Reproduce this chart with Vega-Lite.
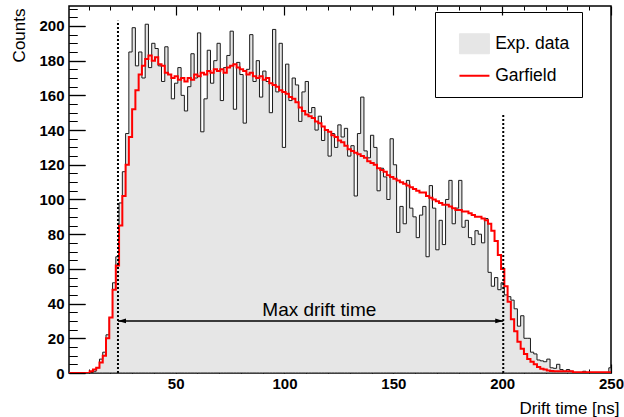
{
  "$schema": "https://vega.github.io/schema/vega-lite/v6.json",
  "autosize": "none",
  "width": 542,
  "height": 367,
  "padding": {"left": 69, "top": 6, "right": 13, "bottom": 44},
  "background": "white",
  "resolve": {"axis": {"x": "independent", "y": "independent"}},
  "config": {
    "view": {"stroke": "black", "strokeWidth": 1.5},
    "axis": {
      "grid": false,
      "zindex": 2,
      "domain": false,
      "ticks": true,
      "labelOverlap": false,
      "tickColor": "#000000",
      "tickOpacity": 1,
      "tickWidth": 1,
      "labelFont": "Liberation Sans",
      "labelFontWeight": "bold",
      "labelFontSize": 15,
      "labelColor": "black",
      "titleFont": "Liberation Sans",
      "titleFontWeight": "normal",
      "titleFontSize": 17,
      "titleColor": "black"
    },
    "legend": {
      "orient": "none",
      "legendX": 366,
      "legendY": 6,
      "padding": 12,
      "strokeColor": "black",
      "fillColor": "white",
      "labelFont": "Liberation Sans",
      "labelFontSize": 17.5,
      "labelColor": "black",
      "symbolOffset": 18.7,
      "labelOffset": 12,
      "rowPadding": 0,
      "symbolSize": 400
    }
  },
  "datasets": {
    "hist": [
      {"t":0,"e":0,"s":0},{"t":1.5,"e":0,"s":0},{"t":3,"e":0,"s":0},{"t":4.5,"e":0,"s":0},{"t":6,"e":0,"s":0},{"t":7.5,"e":0,"s":0},{"t":9,"e":0,"s":0},{"t":10.5,"e":0,"s":1},{"t":12,"e":1,"s":2},{"t":13.5,"e":3,"s":3},
      {"t":15,"e":8,"s":6},{"t":16.5,"e":12,"s":10},{"t":18,"e":22,"s":20},{"t":19.5,"e":32,"s":32},{"t":21,"e":52,"s":48},{"t":22.5,"e":67,"s":62},{"t":24,"e":98,"s":85},{"t":25.5,"e":116,"s":102},{"t":27,"e":138,"s":120},{"t":28.5,"e":185,"s":136},
      {"t":30,"e":199,"s":152},{"t":31.5,"e":177,"s":163},{"t":33,"e":185,"s":172},{"t":34.5,"e":170,"s":177},{"t":36,"e":201,"s":181},{"t":37.5,"e":176,"s":183},{"t":39,"e":190,"s":180},{"t":40.5,"e":187,"s":182},{"t":42,"e":177,"s":178},{"t":43.5,"e":168,"s":177},
      {"t":45,"e":188,"s":173},{"t":46.5,"e":172,"s":172},{"t":48,"e":158,"s":170},{"t":49.5,"e":167,"s":171},{"t":51,"e":176,"s":169},{"t":52.5,"e":160,"s":170},{"t":54,"e":151,"s":168},{"t":55.5,"e":165,"s":170},{"t":57,"e":184,"s":169},{"t":58.5,"e":170,"s":172},
      {"t":60,"e":196,"s":171},{"t":61.5,"e":139,"s":173},{"t":63,"e":158,"s":172},{"t":64.5,"e":186,"s":174},{"t":66,"e":167,"s":173},{"t":67.5,"e":180,"s":175},{"t":69,"e":190,"s":174},{"t":70.5,"e":157,"s":175},{"t":72,"e":176,"s":173},{"t":73.5,"e":183,"s":176},
      {"t":75,"e":197,"s":177},{"t":76.5,"e":152,"s":178},{"t":78,"e":179,"s":176},{"t":79.5,"e":172,"s":175},{"t":81,"e":144,"s":174},{"t":82.5,"e":175,"s":172},{"t":84,"e":195,"s":173},{"t":85.5,"e":168,"s":171},{"t":87,"e":180,"s":170},{"t":88.5,"e":159,"s":171},
      {"t":90,"e":174,"s":169},{"t":91.5,"e":168,"s":170},{"t":93,"e":150,"s":167},{"t":94.5,"e":198,"s":166},{"t":96,"e":162,"s":165},{"t":97.5,"e":190,"s":163},{"t":99,"e":130,"s":162},{"t":100.5,"e":178,"s":161},{"t":102,"e":157,"s":159},{"t":103.5,"e":170,"s":158},
      {"t":105,"e":166,"s":156},{"t":106.5,"e":145,"s":153},{"t":108,"e":162,"s":151},{"t":109.5,"e":168,"s":149},{"t":111,"e":150,"s":148},{"t":112.5,"e":153,"s":147},{"t":114,"e":140,"s":145},{"t":115.5,"e":148,"s":144},{"t":117,"e":134,"s":142},{"t":118.5,"e":140,"s":140},
      {"t":120,"e":125,"s":139},{"t":121.5,"e":138,"s":137},{"t":123,"e":130,"s":136},{"t":124.5,"e":143,"s":134},{"t":126,"e":136,"s":133},{"t":127.5,"e":141,"s":131},{"t":129,"e":125,"s":129},{"t":130.5,"e":131,"s":128},{"t":132,"e":102,"s":127},{"t":133.5,"e":138,"s":126},
      {"t":135,"e":159,"s":125},{"t":136.5,"e":128,"s":124},{"t":138,"e":124,"s":122},{"t":139.5,"e":137,"s":121},{"t":141,"e":130,"s":120},{"t":142.5,"e":105,"s":118},{"t":144,"e":118,"s":117},{"t":145.5,"e":113,"s":116},{"t":147,"e":100,"s":114},{"t":148.5,"e":135,"s":113},
      {"t":150,"e":120,"s":112},{"t":151.5,"e":81,"s":111},{"t":153,"e":96,"s":110},{"t":154.5,"e":86,"s":109},{"t":156,"e":111,"s":108},{"t":157.5,"e":95,"s":107},{"t":159,"e":90,"s":106},{"t":160.5,"e":78,"s":105},{"t":162,"e":91,"s":104},{"t":163.5,"e":96,"s":104},
      {"t":165,"e":67,"s":102},{"t":166.5,"e":108,"s":101},{"t":168,"e":95,"s":100},{"t":169.5,"e":71,"s":99},{"t":171,"e":88,"s":98},{"t":172.5,"e":74,"s":97},{"t":174,"e":100,"s":97},{"t":175.5,"e":111,"s":96},{"t":177,"e":86,"s":95},{"t":178.5,"e":95,"s":94},
      {"t":180,"e":111,"s":94},{"t":181.5,"e":84,"s":93},{"t":183,"e":88,"s":93},{"t":184.5,"e":78,"s":92},{"t":186,"e":74,"s":91},{"t":187.5,"e":82,"s":90},{"t":189,"e":80,"s":90},{"t":190.5,"e":75,"s":89},{"t":192,"e":89,"s":88},{"t":193.5,"e":58,"s":86},
      {"t":195,"e":50,"s":82},{"t":196.5,"e":55,"s":76},{"t":198,"e":48,"s":68},{"t":199.5,"e":52,"s":60},{"t":201,"e":45,"s":50},{"t":202.5,"e":44,"s":41},{"t":204,"e":42,"s":31},{"t":205.5,"e":37,"s":24},{"t":207,"e":27,"s":18},{"t":208.5,"e":33,"s":14},
      {"t":210,"e":20,"s":11},{"t":211.5,"e":20,"s":8},{"t":213,"e":12,"s":6.5},{"t":214.5,"e":11,"s":5},{"t":216,"e":7.5,"s":3.5},{"t":217.5,"e":7,"s":2.5},{"t":219,"e":6.5,"s":2},{"t":220.5,"e":8,"s":1.5},{"t":222,"e":3,"s":1.2},{"t":223.5,"e":2.7,"s":1},
      {"t":225,"e":5,"s":1},{"t":226.5,"e":2,"s":1},{"t":228,"e":1,"s":1},{"t":229.5,"e":2,"s":1},{"t":231,"e":1,"s":1},{"t":232.5,"e":0,"s":0.5},{"t":234,"e":0,"s":0.5},{"t":235.5,"e":0,"s":0.5},{"t":237,"e":1,"s":0.5},{"t":238.5,"e":0,"s":0.5},
      {"t":240,"e":0,"s":0.5},{"t":241.5,"e":0,"s":0.5},{"t":243,"e":0,"s":0.5},{"t":244.5,"e":0,"s":0.5},{"t":246,"e":0,"s":0.5},{"t":247.5,"e":0,"s":0.5},{"t":249,"e":3,"s":0.5},{"t":250,"e":3,"s":0.5}
    ]
  },
  "layer": [
    {
      "data": {"name": "hist"},
      "mark": {"type": "area", "interpolate": "step-after", "stroke": "#1a1a1a", "strokeWidth": 1, "clip": true, "opacity": 1},
      "encoding": {
        "x": {
          "field": "t", "type": "quantitative", "title": "Drift time [ns]",
          "scale": {"domain": [1, 250], "nice": false, "zero": false},
          "axis": {
            "orient": "bottom",
            "values": [50, 100, 150, 200, 250],
            "offset": -9,
            "ticks": true,
            "tickColor": "#000000",
            "tickOpacity": 1,
            "tickWidth": 1.2,
            "tickSize": 9,
            "labelPadding": 3,
            "labelFlush": false,
            "titleAnchor": "end",
            "titleAlign": "right",
            "titleBaseline": "alphabetic",
            "titleX": 550,
            "titleY": 49
          }
        },
        "y": {
          "field": "e", "type": "quantitative", "title": "Counts",
          "scale": {"domain": [0, 211.5], "nice": false},
          "axis": {
            "orient": "left",
            "values": [0, 20, 40, 60, 80, 100, 120, 140, 160, 180, 200],
            "offset": -16,
            "ticks": true,
            "tickColor": "#000000",
            "tickOpacity": 1,
            "tickWidth": 1.2,
            "tickSize": 16,
            "labelPadding": 5,
            "labelFlush": false,
            "titleAngle": 270,
            "titleAnchor": "end",
            "titleAlign": "right",
            "titleBaseline": "alphabetic",
            "titleX": -61,
            "titleY": 2
          }
        },
        "color": {
          "datum": "Exp. data", "type": "nominal",
          "scale": {"domain": ["Exp. data", "Garfield"], "range": ["#e6e6e6", "#ff0000"]},
          "legend": {
            "title": null,
            "encode": {
              "labels": {"update": {"dy": {"value": 11}}},
              "symbols": {
                "update": {
                  "shape": {"signal": "datum.value === 'Garfield' ? 'M-1.5,1.1L1.5,1.1' : 'M-1.5,0.1L1.5,0.1L1.5,2.1L-1.5,2.1Z'"},
                  "fill": {"signal": "datum.value === 'Garfield' ? 'transparent' : '#e6e6e6'"},
                  "stroke": {"signal": "datum.value === 'Garfield' ? '#ff0000' : '#000000'"},
                  "strokeWidth": {"signal": "datum.value === 'Garfield' ? 2 : 1"},
                  "opacity": {"value": 1},
                  "size": {"value": 400}
                }
              }
            }
          }
        }
      }
    },
    {
      "data": {"name": "hist"},
      "mark": {"type": "line", "interpolate": "step-after", "strokeWidth": 2, "clip": true},
      "encoding": {
        "x": {
          "field": "t", "type": "quantitative",
          "axis": {
            "orient": "bottom",
            "values": [10,20,30,40,60,70,80,90,110,120,130,140,160,170,180,190,210,220,230,240],
            "offset": -4,
            "ticks": true,
            "tickColor": "#000000",
            "tickOpacity": 1,
            "tickWidth": 1,
            "tickSize": 4,
            "labels": false,
            "title": null
          }
        },
        "y": {
          "field": "s", "type": "quantitative",
          "axis": {
            "orient": "left",
            "values": [5,10,15,25,30,35,45,50,55,65,70,75,85,90,95,105,110,115,125,130,135,145,150,155,165,170,175,185,190,195,205,210],
            "offset": -8,
            "ticks": true,
            "tickColor": "#000000",
            "tickOpacity": 1,
            "tickWidth": 1,
            "tickSize": 8,
            "labels": false,
            "title": null
          }
        },
        "color": {
          "datum": "Garfield", "type": "nominal",
          "legend": {
            "title": null,
            "encode": {
              "labels": {"update": {"dy": {"value": 11}}},
              "symbols": {
                "update": {
                  "shape": {"signal": "datum.value === 'Garfield' ? 'M-1.5,1.1L1.5,1.1' : 'M-1.5,0.1L1.5,0.1L1.5,2.1L-1.5,2.1Z'"},
                  "fill": {"signal": "datum.value === 'Garfield' ? 'transparent' : '#e6e6e6'"},
                  "stroke": {"signal": "datum.value === 'Garfield' ? '#ff0000' : '#000000'"},
                  "strokeWidth": {"signal": "datum.value === 'Garfield' ? 2 : 1"},
                  "opacity": {"value": 1},
                  "size": {"value": 400}
                }
              }
            }
          }
        }
      }
    },
    {
      "data": {"values": [{"t": 23.5, "e": 0, "e2": 203}, {"t": 200.5, "e": 0, "e2": 149}]},
      "mark": {"type": "rule", "strokeDash": [2, 2], "strokeWidth": 2, "color": "black"},
      "encoding": {
        "x": {"field": "t", "type": "quantitative",
          "axis": {"orient": "bottom", "values": [50, 100, 150, 200, 250], "grid": true, "gridColor": "#000000", "gridOpacity": 1, "gridWidth": 1.2, "gridDash": [9, 3000], "ticks": false, "labels": false, "domain": false, "title": null, "zindex": 2}},
        "y": {"field": "e", "type": "quantitative",
          "axis": {"orient": "left", "values": [0, 20, 40, 60, 80, 100, 120, 140, 160, 180, 200], "grid": true, "gridColor": "#000000", "gridOpacity": 1, "gridWidth": 1.2, "gridDash": [16, 3000], "ticks": false, "labels": false, "domain": false, "title": null, "zindex": 2}},
        "y2": {"field": "e2"}
      }
    },
    {
      "data": {"values": [{"t": 23.5, "t2": 200.5, "e": 30}]},
      "mark": {"type": "rule", "strokeWidth": 1.5, "color": "black"},
      "encoding": {
        "x": {"field": "t", "type": "quantitative",
          "axis": {"orient": "bottom", "values": [10,20,30,40,60,70,80,90,110,120,130,140,160,170,180,190,210,220,230,240], "grid": true, "gridColor": "#000000", "gridOpacity": 1, "gridWidth": 1, "gridDash": [4, 3000], "ticks": false, "labels": false, "domain": false, "title": null, "zindex": 2}},
        "x2": {"field": "t2"},
        "y": {"field": "e", "type": "quantitative",
          "axis": {"orient": "left", "values": [5,10,15,25,30,35,45,50,55,65,70,75,85,90,95,105,110,115,125,130,135,145,150,155,165,170,175,185,190,195,205,210], "grid": true, "gridColor": "#000000", "gridOpacity": 1, "gridWidth": 1, "gridDash": [8, 3000], "ticks": false, "labels": false, "domain": false, "title": null, "zindex": 2}}
      }
    },
    {
      "data": {"values": [{"t": 23.5, "e": 30, "dir": "left"}, {"t": 200.5, "e": 30, "dir": "right"}]},
      "mark": {"type": "point", "filled": true, "color": "black", "opacity": 1, "size": 64},
      "encoding": {
        "x": {"field": "t", "type": "quantitative", "axis": null},
        "y": {"field": "e", "type": "quantitative", "axis": null},
        "shape": {"field": "dir", "type": "nominal", "legend": null,
          "scale": {"domain": ["left", "right"], "range": ["M0,0L2,-0.6L2,0.6Z", "M0,0L-2,-0.6L-2,0.6Z"]}}
      }
    },
    {
      "data": {"values": [{"t": 116, "e": 33, "label": "Max drift time"}]},
      "mark": {"type": "text", "font": "Liberation Sans", "fontSize": 19, "color": "black", "baseline": "alphabetic", "align": "center"},
      "encoding": {
        "x": {"field": "t", "type": "quantitative", "axis": null},
        "y": {"field": "e", "type": "quantitative", "axis": null},
        "text": {"field": "label"}
      }
    }
  ]
}
